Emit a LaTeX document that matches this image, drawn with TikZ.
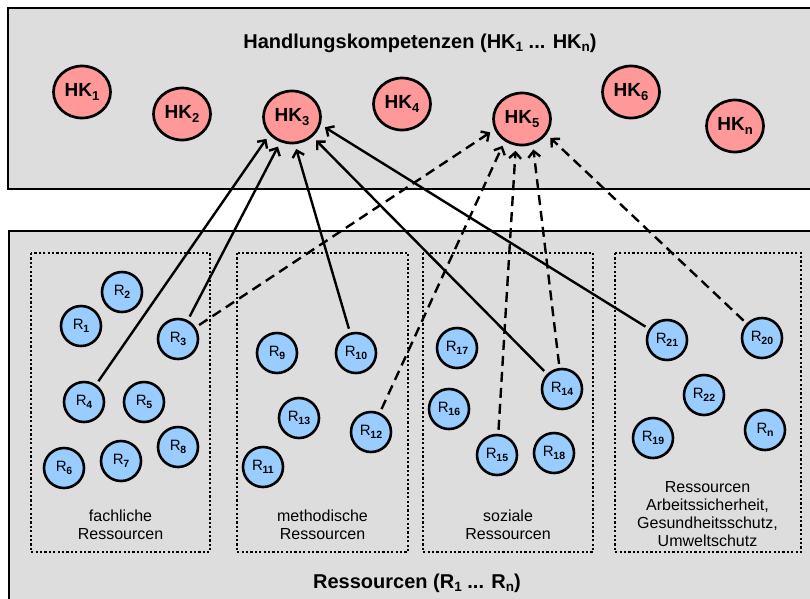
\documentclass[tikz,border=0pt]{standalone}
\usepackage{fontspec}
\setmainfont{Liberation Sans}
\usetikzlibrary{shapes.geometric,arrows.meta}

\definecolor{bgray}{HTML}{DDDDDD}
\definecolor{hkpink}{HTML}{FF9999}
\definecolor{rblue}{HTML}{99CCFF}

\newcommand\hksub[1]{\raisebox{-3.5pt}{\fontsize{13}{13}\selectfont #1}}
\newcommand\rsub[1]{\kern-0.3pt\raisebox{-3pt}{\fontsize{10.5}{10.5}\selectfont\bfseries #1}}
\newcommand\tsub[1]{\raisebox{-3.5pt}{\fontsize{13.5}{13.5}\selectfont #1}}

\begin{document}
\begin{tikzpicture}[x=1pt,y=-1pt,
  panel/.style={draw=black, line width=2.8pt, fill=bgray},
  group/.style={draw=black, line width=2.4pt, dash pattern=on 2.2pt off 2.2pt},
  hk/.style={ellipse, draw=black, line width=2.7pt, fill=hkpink, minimum width=57pt, minimum height=52pt, inner sep=0pt, font=\fontsize{19}{19}\selectfont\bfseries},
  res/.style={circle, draw=black, line width=2.6pt, fill=rblue, minimum size=40pt, inner sep=0pt, font=\fontsize{15}{15}\selectfont},
  title/.style={anchor=base, font=\fontsize{20}{20}\selectfont\bfseries},
  glabel/.style={align=center, font=\fontsize{16}{18}\selectfont},
  link/.style={line width=2.4pt, -{Straight Barb[length=6pt,width=12pt]}, shorten >=5pt, shorten <=4pt},
  dlink/.style={link, dash pattern=on 10pt off 6pt},
]
\useasboundingbox (0,0) rectangle (810,598);
\clip (0,0) rectangle (810,598);

% panels
\draw[panel] (8,8) rectangle (820,189);
\draw[panel] (9,231) rectangle (820,615);

\node[title] (ttop) at (420,48) {Handlungskompetenzen (HK\tsub{1} ... HK\tsub{n})};
\node[title] (tbot) at (417,588) {Ressourcen (R\tsub{1} ... R\tsub{n})};

% resource groups
\draw[group] (31,253) rectangle (210,552);
\draw[group] (237,253) rectangle (408,552);
\draw[group] (423,253) rectangle (593,552);
\draw[group] (615,253) rectangle (801,552);

\node[glabel] (g1) at (120.5,525) {fachliche\\Ressourcen};
\node[glabel] (g2) at (322.5,525) {methodische\\Ressourcen};
\node[glabel] (g3) at (508,525) {soziale\\Ressourcen};
\node[glabel] (g4) at (707.5,514) {Ressourcen\\Arbeitssicherheit,\\Gesundheitsschutz,\\Umweltschutz};

% competences
\node[hk] (hk1) at (82,92) {HK\hksub{1}};
\node[hk] (hk2) at (182,114) {HK\hksub{2}};
\node[hk] (hk3) at (292,117) {HK\hksub{3}};
\node[hk] (hk4) at (402,104) {HK\hksub{4}};
\node[hk] (hk5) at (522,119) {HK\hksub{5}};
\node[hk] (hk6) at (631,92) {HK\hksub{6}};
\node[hk] (hkn) at (735,126) {HK\hksub{n}};

% resources
\node[res] (r1) at (81,326) {R\rsub{1}};
\node[res] (r2) at (122,292) {R\rsub{2}};
\node[res] (r3) at (178,339) {R\rsub{3}};
\node[res] (r4) at (84,402) {R\rsub{4}};
\node[res] (r5) at (144,402) {R\rsub{5}};
\node[res] (r6) at (64,468) {R\rsub{6}};
\node[res] (r7) at (121,461) {R\rsub{7}};
\node[res] (r8) at (178,447) {R\rsub{8}};
\node[res] (r9) at (277,353) {R\rsub{9}};
\node[res] (r10) at (356,353) {R\rsub{10}};
\node[res] (r11) at (263,467) {R\rsub{11}};
\node[res] (r12) at (371,432) {R\rsub{12}};
\node[res] (r13) at (299,418) {R\rsub{13}};
\node[res] (r14) at (562,389) {R\rsub{14}};
\node[res] (r15) at (497,455) {R\rsub{15}};
\node[res] (r16) at (449,409) {R\rsub{16}};
\node[res] (r17) at (457,348) {R\rsub{17}};
\node[res] (r18) at (554,453) {R\rsub{18}};
\node[res] (r19) at (653,438) {R\rsub{19}};
\node[res] (r20) at (762,338) {R\rsub{20}};
\node[res] (r21) at (667,340) {R\rsub{21}};
\node[res] (r22) at (704,395) {R\rsub{22}};
\node[res] (rn) at (765,430) {R\rsub{n}};

% solid links to HK3
\draw[link] (r4) -- (hk3.218);
\draw[link] (r3) -- (hk3.245);
\draw[link] (r10) -- (hk3.276);
\draw[link] (r14) -- (hk3.316);
\draw[link] (r21) -- (hk3.345);

% dashed links to HK5
\draw[dlink] (r3) -- (hk5.201);
\draw[dlink] (r12) -- (hk5.232);
\draw[dlink] (r15) -- (hk5.257);
\draw[dlink] (r14) -- (hk5.293);
\draw[dlink] (r20) -- (hk5.328);
\end{tikzpicture}
\end{document}
